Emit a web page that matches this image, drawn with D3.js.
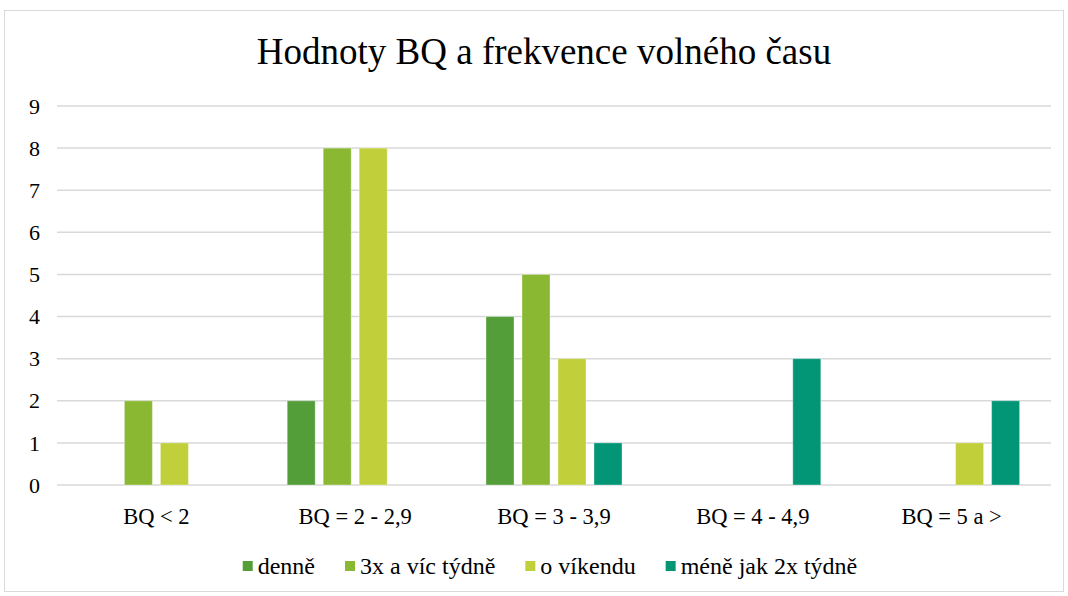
<!DOCTYPE html>
<html>
<head>
<meta charset="utf-8">
<script src="https://cdn.jsdelivr.net/npm/d3@7.9.0/dist/d3.min.js"></script>
<style>
  body { margin: 0; background: #fff; }
  svg { display: block; font-family: "Liberation Serif", "Times New Roman", serif; }
</style>
</head>
<body>
<svg width="1068" height="596"></svg>
<script>
const categories = ['BQ < 2', 'BQ = 2 - 2,9', 'BQ = 3 - 3,9', 'BQ = 4 - 4,9', 'BQ = 5 a >'];
const seriesNames = ['denně', '3x a víc týdně', 'o víkendu', 'méně jak 2x týdně'];
const denne = [0, 2, 4, 0, 0];
const tydne3x = [2, 8, 5, 0, 0];
const vikend = [1, 8, 3, 0, 1];
const mene2x = [0, 0, 1, 3, 2];
const yTicks = [0, 1, 2, 3, 4, 5, 6, 7, 8, 9];
const colors = ['#549e39', '#8ab833', '#c0cf3a', '#029676'];

const seriesValues = [denne, tydne3x, vikend, mene2x];

const svg = d3.select('svg');

// chart border
svg.append('rect')
  .attr('x', 4.5).attr('y', 10.5)
  .attr('width', 1059).attr('height', 581)
  .attr('fill', '#fff')
  .attr('stroke', '#d9d9d9')
  .attr('stroke-width', 1);

svg.append('text')
  .attr('x', 544).attr('y', 64)
  .attr('text-anchor', 'middle')
  .attr('font-size', 37)
  .attr('fill', '#000')
  .text('Hodnoty BQ a frekvence volného času');

const plotLeft = 57, plotRight = 1051, plotTop = 106, plotBottom = 485;

let x0 = d3.scaleBand()
  .domain(categories)
  .range([plotLeft, plotRight])
  .paddingInner(0)
  .paddingOuter(0);

let x1 = d3.scaleBand()
  .domain(d3.range(seriesNames.length))
  .range([0, 136])
  .paddingInner(8 / 36)
  .paddingOuter(0);

let y = d3.scaleLinear().domain([0, 9]).range([plotBottom, plotTop]);

// gridlines
svg.append('g')
  .selectAll('line')
  .data(yTicks)
  .enter()
  .append('line')
  .attr('x1', plotLeft).attr('x2', plotRight)
  .attr('y1', d => y(d)).attr('y2', d => y(d))
  .attr('stroke', '#d9d9d9')
  .attr('stroke-width', 1.5);

// y tick labels
svg.append('g')
  .selectAll('text')
  .data(yTicks)
  .enter()
  .append('text')
  .attr('x', 40)
  .attr('y', d => y(d))
  .attr('dy', '0.35em')
  .attr('text-anchor', 'end')
  .attr('font-size', 22)
  .text(d => d);

// bars
let groups = svg.append('g')
  .selectAll('g')
  .data(categories)
  .enter()
  .append('g')
  .attr('transform', d => `translate(${x0(d) + (x0.bandwidth() - 136) / 2},0)`);

groups.selectAll('rect')
  .data((d, ci) => seriesValues.map((vals, si) => ({ si, v: vals[ci] })).filter(b => b.v > 0))
  .enter()
  .append('rect')
  .attr('x', d => x1(d.si))
  .attr('y', d => y(d.v))
  .attr('width', x1.bandwidth())
  .attr('height', d => y(0) - y(d.v))
  .attr('fill', d => colors[d.si])
  .attr('stroke', 'rgba(255,255,255,0.35)')
  .attr('stroke-width', 1);

// category labels
svg.append('g')
  .selectAll('text')
  .data(categories)
  .enter()
  .append('text')
  .attr('x', d => x0(d) + x0.bandwidth() / 2)
  .attr('y', 524)
  .attr('text-anchor', 'middle')
  .attr('font-size', 22.5)
  .text(d => d);

// legend
let legend = svg.append('g');
let lx = 0;
seriesNames.forEach((name, i) => {
  let item = legend.append('g').attr('transform', `translate(${lx},0)`);
  item.append('rect')
    .attr('x', 0).attr('y', -13)
    .attr('width', 10).attr('height', 10)
    .attr('fill', colors[i]);
  let t = item.append('text')
    .attr('x', 15).attr('y', 0)
    .attr('font-size', 24)
    .text(name);
  lx += 15 + t.node().getComputedTextLength() + 30;
});
lx -= 30;
legend.attr('transform', `translate(${550 - lx / 2},574)`);
</script>
</body>
</html>
